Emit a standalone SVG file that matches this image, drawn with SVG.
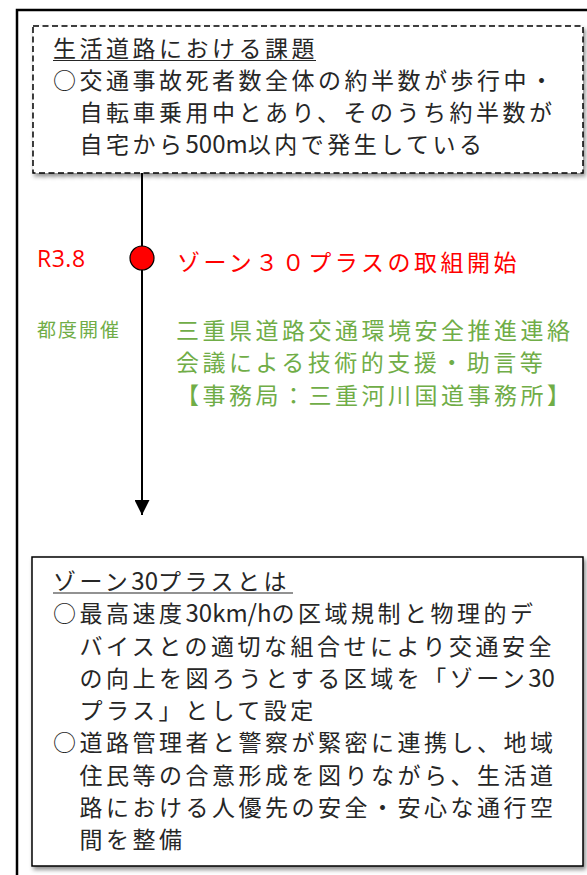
<svg xmlns="http://www.w3.org/2000/svg" width="587" height="875" viewBox="0 0 587 875">
  <style>
    .jp { font-family: "Noto Sans CJK JP", "Noto Sans", sans-serif; font-size: 23px; letter-spacing: 3.5px; }
    .ink { fill: #262626; }
    .red { fill: #ff0000; }
    .green { fill: #70ad47; }
    .lat { letter-spacing: 0px; font-size: 24px; }
    .box { fill: #ffffff; stroke: #000; stroke-width: 1.5; }
  </style>
  <defs>
    <filter id="shadow" x="-5%" y="-5%" width="112%" height="115%">
      <feDropShadow dx="2" dy="3" stdDeviation="2" flood-color="#000" flood-opacity="0.45"/>
    </filter>
    <marker id="arrow" viewBox="0 0 15 15" refX="15" refY="7.5" markerWidth="15" markerHeight="15" markerUnits="userSpaceOnUse" orient="auto">
      <path d="M0,0 L15,7.5 L0,15 Z" fill="#000"/>
    </marker>
  </defs>

  <rect width="587" height="875" fill="#ffffff"/>

  <g id="frame">
    <rect x="17" y="10" width="620" height="900" fill="none" stroke="#000" stroke-width="2.5"/>
  </g>

  <g id="connectors">
    <line x1="142" y1="173" x2="142" y2="515" stroke="#000" stroke-width="2" marker-end="url(#arrow)"/>
  </g>

  <g id="issue-box">
    <rect class="box" x="33" y="26" width="550" height="147" stroke-dasharray="6 3.5" filter="url(#shadow)"/>
    <text class="jp ink" x="53" y="57">生活道路における課題</text>
    <line x1="53" y1="60.5" x2="316" y2="60.5" stroke="#262626" stroke-width="1.2"/>
    <text class="jp ink" x="53" y="89">○交通事故死者数全体の約半数が歩行中・</text>
    <text class="jp ink" x="79.5" y="121">自転車乗用中とあり、そのうち約半数が</text>
    <text class="jp ink" x="79.5" y="153">自宅から<tspan class="lat">500m</tspan>以内で発生している</text>
  </g>

  <g id="milestone-r38">
    <circle cx="142" cy="258" r="12" fill="#ff0000" stroke="#000" stroke-width="1.2"/>
    <text x="37" y="267" font-family="'Open Sans', 'Liberation Sans', sans-serif" font-size="23" letter-spacing="0.5" fill="#ff0000">R3.8</text>
    <text class="jp red" x="177" y="271">ゾーン３０プラスの取組開始</text>
  </g>

  <g id="council">
    <text x="37" y="337" font-family="'Noto Sans CJK JP', sans-serif" font-size="19" letter-spacing="2" fill="#70ad47">都度開催</text>
    <text class="jp green" x="176" y="339">三重県道路交通環境安全推進連絡</text>
    <text class="jp green" x="176" y="371">会議による技術的支援・助言等</text>
    <text class="jp green" x="176" y="404">【事務局：三重河川国道事務所】</text>
  </g>

  <g id="zone30-box">
    <rect class="box" x="32" y="557" width="551" height="309" filter="url(#shadow)"/>
    <text class="jp ink" x="53" y="590">ゾーン<tspan class="lat">30</tspan>プラスとは</text>
    <line x1="53" y1="593" x2="293" y2="593" stroke="#262626" stroke-width="1.2"/>
    <text class="jp ink" x="53" y="622">○最高速度<tspan class="lat">30km/h</tspan>の区域規制と物理的デ</text>
    <text class="jp ink" x="79.5" y="654.5">バイスとの適切な組合せにより交通安全</text>
    <text class="jp ink" x="79.5" y="687">の向上を図ろうとする区域を「ゾーン<tspan class="lat">30</tspan></text>
    <text class="jp ink" x="79.5" y="719">プラス」として設定</text>
    <text class="jp ink" x="53" y="751">○道路管理者と警察が緊密に連携し、地域</text>
    <text class="jp ink" x="79.5" y="783.5">住民等の合意形成を図りながら、生活道</text>
    <text class="jp ink" x="79.5" y="816">路における人優先の安全・安心な通行空</text>
    <text class="jp ink" x="79.5" y="848">間を整備</text>
  </g>
</svg>
